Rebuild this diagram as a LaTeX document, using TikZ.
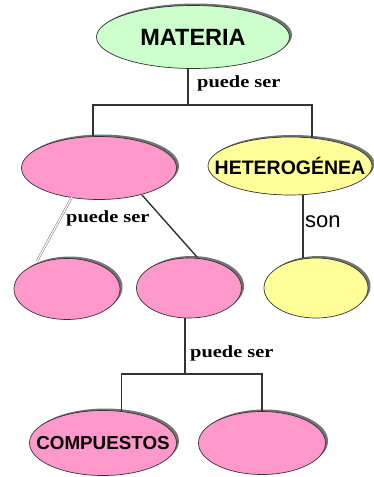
\documentclass[tikz,border=0pt]{standalone}
\usepackage{fontspec}
\setmainfont{Liberation Sans}
\newfontfamily\serifbold{Liberation Serif}
\usetikzlibrary{shapes.geometric, shadows, calc}
\definecolor{mintGreen}{HTML}{CCFFCC}
\definecolor{pinkFill}{HTML}{FF99CC}
\definecolor{paleYellow}{HTML}{FFFF99}
\tikzstyle{boxConcept} = [ellipse, draw=black!80, line width=0.7pt, inner sep=0pt, text centered, drop shadow={shadow xshift=2.5pt, shadow yshift=2pt, fill=black!55, opacity=1}]
\tikzstyle{link} = [line width=1.4pt, draw=black!80]
\tikzstyle{linkDouble} = [line width=0.5pt, draw=black!55, double=white, double distance=1.2pt]
\tikzstyle{linkLabel} = [anchor=west, inner sep=0pt, font=\serifbold\fontsize{17}{19}\selectfont\bfseries, xscale=1.2, transform shape]

\begin{document}
\begin{tikzpicture}[x=1pt, y=-1pt]
\useasboundingbox (0,0) rectangle (374,477);

\node (materia) [boxConcept, fill=mintGreen, minimum width=193pt, minimum height=63pt] at (193,37) {
\makebox[0pt]{\fontsize{23.5}{25}\selectfont\bfseries MATERIA}
};

\node (homog) [boxConcept, fill=pinkFill, minimum width=155pt, minimum height=63pt] at (99,168) {};

\node (heterog) [boxConcept, fill=paleYellow, minimum width=164pt, minimum height=58pt] at (290,166) {
\makebox[0pt]{\fontsize{19.5}{21}\selectfont\bfseries HETEROGÉNEA}
};

\node (mezclaA) [boxConcept, fill=pinkFill, minimum width=106pt, minimum height=61pt] at (67,289) {};

\node (sustancia) [boxConcept, fill=pinkFill, minimum width=105pt, minimum height=60pt] at (189,288) {};

\node (mezclaB) [boxConcept, fill=paleYellow, minimum width=104pt, minimum height=60pt] at (316,288) {};

\node (compuestos) [boxConcept, fill=pinkFill, minimum width=147pt, minimum height=65pt] at (103,443) {
\makebox[0pt]{\fontsize{18.8}{20}\selectfont\bfseries COMPUESTOS}
};

\node (elementos) [boxConcept, fill=pinkFill, minimum width=127pt, minimum height=63pt] at (262,443) {};

\coordinate (splitTop) at (188,105);
\coordinate (splitBottom) at (185,374);

\draw[link] (materia.south -| splitTop) -- (splitTop);
\draw[link] (homog.101) |- (splitTop) -| (heterog.52);
\draw[linkDouble] ($(homog.center)+(-27,29)$) -- ($(mezclaA.center)+(-30,-28)$);
\draw[link] ($(homog.center)+(43,27)$) -- ($(sustancia.center)+(8,-31)$);
\draw[link] (heterog.-66) -- (heterog.-66 |- mezclaB.north);
\draw[link] (sustancia.south -| splitBottom) -- (splitBottom);
\draw[link] (compuestos.60) |- (splitBottom) -| (elementos.north);

\node (lblMateria) [linkLabel] at (197,83) {puede ser};
\node (lblHomog) [linkLabel] at (66,218) {puede ser};
\node (lblSustancia) [linkLabel] at (190,353) {puede ser};
\node (lblSon) [anchor=west, inner sep=0pt, font=\fontsize{22}{24}\selectfont] at (305,222) {son};

\end{tikzpicture}
\end{document}
